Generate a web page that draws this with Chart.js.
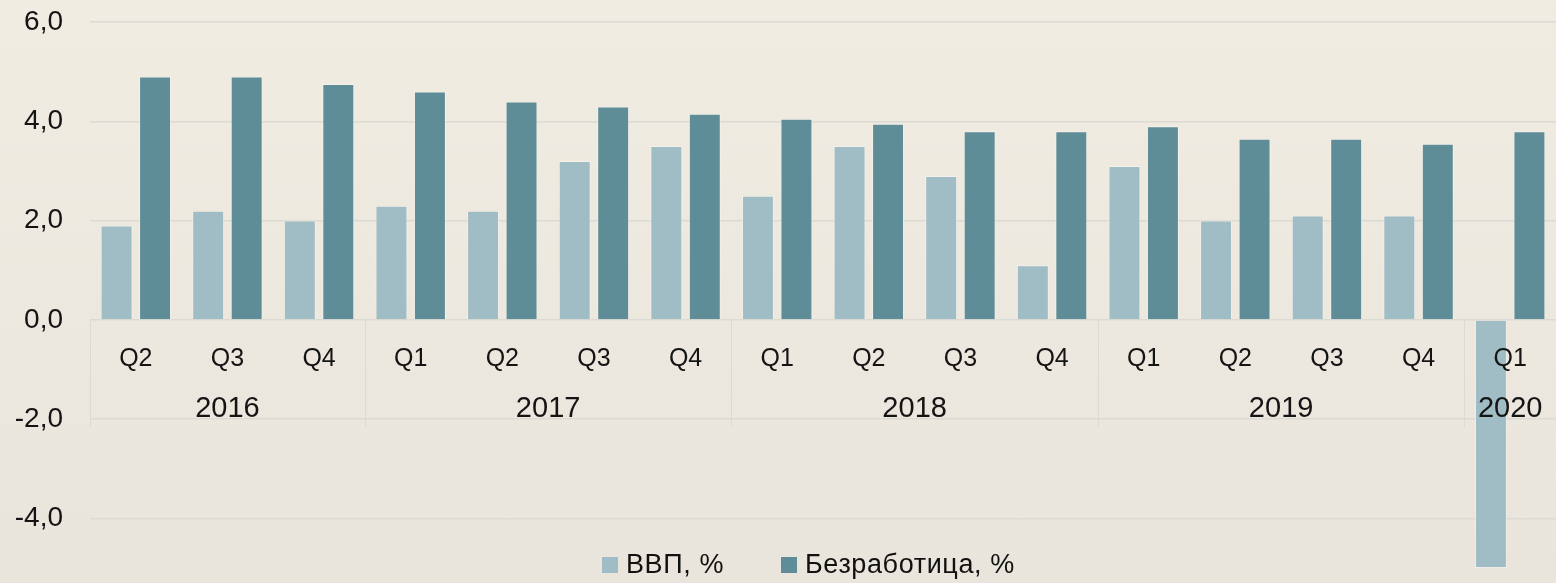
<!DOCTYPE html>
<html>
<head>
<meta charset="utf-8">
<script src="https://cdn.jsdelivr.net/npm/chart.js@4.4.1/dist/chart.umd.min.js"></script>
<style>
  html, body { margin: 0; padding: 0; }
  body { width: 1556px; height: 583px; overflow: hidden;
         background: linear-gradient(#f0ece2, #e9e5dc); font-family: "Liberation Sans", Arial, sans-serif; }
  #wrap { position: relative; width: 1556px; height: 583px; }
  #legend { position: absolute; left: 602px; top: 549px; display: flex; font-size: 27px; letter-spacing: 0.6px; color: #111; }
  #legend .item { display: flex; align-items: center; margin-right: 57px; }
  #legend .box { width: 16px; height: 16px; margin-right: 8px; }
</style>
</head>
<body>
<div id="wrap">
  <canvas id="chart"></canvas>
  <div id="legend"></div>
</div>
<script>
const quarters = ['Q2', 'Q3', 'Q4', 'Q1', 'Q2', 'Q3', 'Q4', 'Q1', 'Q2', 'Q3', 'Q4', 'Q1', 'Q2', 'Q3', 'Q4', 'Q1'];
const years = ['2016', '2016', '2016', '2017', '2017', '2017', '2017', '2018', '2018', '2018', '2018', '2019', '2019', '2019', '2019', '2020'];
const gdp = [1.9, 2.2, 2.0, 2.3, 2.2, 3.2, 3.5, 2.5, 3.5, 2.9, 1.1, 3.1, 2.0, 2.1, 2.1, -5.0];
const unemployment = [4.9, 4.9, 4.75, 4.6, 4.4, 4.3, 4.15, 4.05, 3.95, 3.8, 3.8, 3.9, 3.65, 3.65, 3.55, 3.8];
const yTicks = [-4, -2, 0, 2, 4, 6];

const textColor = '#141414';
const gridColor = '#dcdad4';
const fontFamily = '"Liberation Sans", Arial, sans-serif';

// подписи годов и разделители под осью
const yearPlugin = {
  id: 'years',
  afterDraw(chart) {
    const x = chart.scales.x, y = chart.scales.y;
    const c = chart.ctx;
    const y0 = y.getPixelForValue(0);
    const half = (x.getPixelForValue(1) - x.getPixelForValue(0)) / 2;
    c.save();
    c.strokeStyle = gridColor;
    c.lineWidth = 1;
    c.fillStyle = textColor;
    c.font = '29px ' + fontFamily;
    c.textAlign = 'center';
    c.textBaseline = 'middle';
    let start = 0;
    for (let i = 1; i <= years.length; i++) {
      if (i === years.length || years[i] !== years[start]) {
        const left = x.getPixelForValue(start) - half;
        const mid = (x.getPixelForValue(start) + x.getPixelForValue(i - 1)) / 2;
        c.beginPath();
        c.moveTo(Math.round(left) + 0.5, y0);
        c.lineTo(Math.round(left) + 0.5, y0 + 107);
        c.stroke();
        c.fillText(years[start], mid, y0 + 89);
        start = i;
      }
    }
    c.restore();
  }
};

const chart = new Chart(document.getElementById('chart'), {
  type: 'bar',
  data: {
    labels: quarters,
    datasets: [
      {
        label: 'ВВП, %',
        data: gdp,
        backgroundColor: '#a0bcc4',
        borderColor: 'rgba(255,255,255,0.35)',
        borderWidth: 1,
        categoryPercentage: 0.84,
        barPercentage: 0.83
      },
      {
        label: 'Безработица, %',
        data: unemployment,
        backgroundColor: '#5e8d97',
        borderColor: 'rgba(255,255,255,0.35)',
        borderWidth: 1,
        categoryPercentage: 0.84,
        barPercentage: 0.83
      }
    ]
  },
  options: {
    responsive: true,
    maintainAspectRatio: false,
    animation: false,
    layout: { padding: { top: 22, right: 0, bottom: 0, left: 0 } },
    plugins: {
      legend: { display: false },
      tooltip: { enabled: false }
    },
    scales: {
      x: {
        position: { y: 0 },
        // ось стоит на нуле, места под неё не резервируем
        afterFit: scale => { scale.height = 0; scale.paddingTop = 0; scale.paddingBottom = 0; },
        grid: { display: false },
        border: { display: false },
        ticks: {
          z: 1,
          color: textColor,
          padding: 16,
          maxRotation: 0,
          autoSkip: false,
          font: { family: fontFamily, size: 25 }
        }
      },
      y: {
        min: -5.3,
        max: 6,
        afterBuildTicks: scale => { scale.ticks = yTicks.map(v => ({ value: v })); },
        afterFit: scale => { scale.width = 90; scale.paddingTop = 0; scale.paddingBottom = 0; },
        grid: { color: gridColor, lineWidth: 1.5, drawTicks: false },
        border: { display: false },
        ticks: {
          color: textColor,
          padding: 27,
          font: { family: fontFamily, size: 28 },
          callback: v => v.toFixed(1).replace('.', ',')
        }
      }
    }
  },
  plugins: [yearPlugin]
});

const legend = document.getElementById('legend');
chart.data.datasets.forEach(ds => {
  const item = document.createElement('div');
  item.className = 'item';
  item.innerHTML = `<span class="box" style="background:${ds.backgroundColor}"></span><span>${ds.label}</span>`;
  legend.appendChild(item);
});
</script>
</body>
</html>
